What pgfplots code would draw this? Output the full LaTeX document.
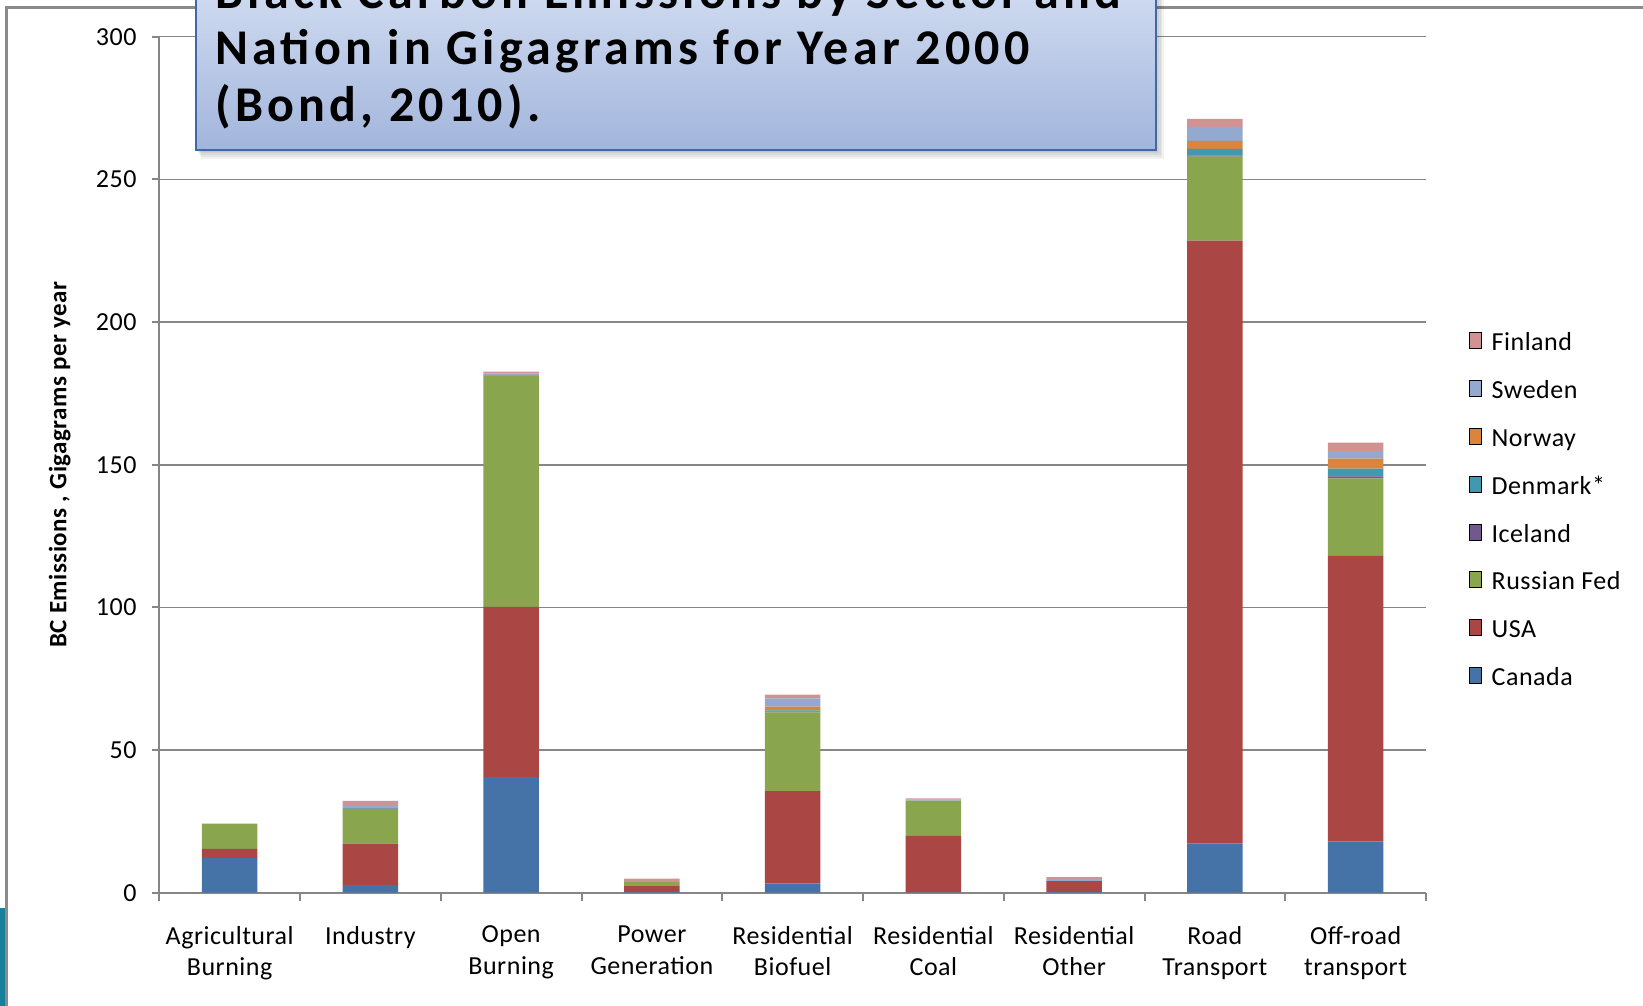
\documentclass[border=0pt]{standalone}
\usepackage{pgfplots}
\pgfplotsset{compat=1.18}
\usepackage{pgfplotstable}
\usepackage{fontspec}
\setmainfont{Carlito}
\newfontfamily\lblfont[LetterSpace=2]{Carlito}
\newfontfamily\legfont[LetterSpace=2]{Carlito}
\newfontfamily\ylabfont[LetterSpace=2]{Carlito}
\newfontfamily\titlefont[LetterSpace=8.5]{Carlito}

\definecolor{cCanada}{HTML}{4572A7}
\definecolor{cUSA}{HTML}{AA4643}
\definecolor{cRussia}{HTML}{89A54E}
\definecolor{cIceland}{HTML}{71588F}
\definecolor{cDenmark}{HTML}{4198AF}
\definecolor{cNorway}{HTML}{DB843D}
\definecolor{cSweden}{HTML}{93A9CF}
\definecolor{cFinland}{HTML}{D19392}
\definecolor{axgray}{HTML}{868686}
\definecolor{framegray}{HTML}{8A8A8A}
\definecolor{slideteal}{HTML}{17809A}
\definecolor{titletop}{HTML}{D8E2F4}
\definecolor{titlebot}{HTML}{A2B5DC}
\definecolor{titleborder}{HTML}{3F69A6}

% BC emissions (Gg/yr) by sector (rows) and nation (columns)
\pgfplotstableread{
x Canada USA Russia Iceland Denmark Norway Sweden Finland
0 12.1  3.3   8.8  0.0 0.0 0.0 0.0 0.0
1  2.7 14.5  12.2  0.1 0.2 0.2 0.8 1.5
2 40.5 59.7  81.0  0.0 0.2 0.1 0.5 0.6
3  0.3  2.0   1.5  0.0 0.0 0.0 0.3 0.8
4  3.3 32.3  27.6  0.3 0.4 1.3 2.9 1.3
5  0.1 19.8  12.4  0.0 0.0 0.0 0.3 0.5
6  0.2  3.9   0.0  0.0 0.0 0.0 0.7 0.7
7 17.3 211.2 29.5  0.3 2.4 2.8 4.9 2.8
8 18.0 100.2 27.0  0.7 2.7 3.5 2.7 2.9
}\bcdata

% solid bar segment with a plain square legend swatch (fill only)
\tikzset{sq/.style={fill=#1, draw=none,
  legend image code/.code={%
    \pgfsetfillcolor{#1}%
    \pgfpathrectangle{\pgfpoint{0pt}{-3.9pt}}{\pgfpoint{7.8pt}{7.8pt}}%
    \pgfusepath{fill}}}}

\begin{document}
\begin{tikzpicture}
\path[use as bounding box] (0,0) rectangle (821.5pt,-503pt);

% slide frame
\fill[slideteal] (0,-454pt) rectangle (2.6pt,-503pt);
\draw[framegray, line width=1.2pt] (3.25pt,-503pt) -- (3.25pt,-3.75pt) -- (821.5pt,-3.75pt);

\begin{axis}[
  at={(79.65pt,-446.35pt)}, anchor=south west,
  scale only axis, width=633.35pt, height=428pt,
  ybar stacked, bar width=27.8pt,
  xmin=-0.5, xmax=8.5, ymin=0, ymax=300,
  enlargelimits=false,
  ytick={0,50,...,300},
  xtick={0,...,8},
  minor xtick={-0.5,0.5,...,8.5},
  xticklabels={{Agricultural\\Burning},{Industry},{Open\\Burning},{Power\\Generation},{Residential\\Biofuel},{Residential\\Coal},{Residential\\Other},{Road\\Transport},{Off-road\\transport}},
  axis x line*=bottom, axis y line*=left,
  axis line style={draw=axgray, line width=1pt, -},
  tick align=outside,
  major tick length=3.7pt, minor tick length=4.2pt,
  tick style={draw=axgray, line width=1pt},
  major x tick style={draw=none},
  ymajorgrids, grid style={draw=axgray, line width=0.8pt},
  /pgf/number format/assume math mode=true,
  yticklabel style={font=\lblfont\fontsize{13}{15}\selectfont, text=black, xshift=-4.2pt},
  xticklabel style={font=\lblfont\fontsize{13}{15.8}\selectfont, align=center, anchor=north, text=black, yshift=-9.4pt},
  ylabel={BC Emissions , Gigagrams  per year},
  ylabel style={font=\ylabfont\fontsize{12.5}{15}\selectfont\bfseries, at={(axis description cs:-0.0786,0.5)}, anchor=center},
  legend style={draw=none, fill=none, at={(axis description cs:1.034,0.655)}, anchor=north west,
    font=\legfont\fontsize{13}{15}\selectfont, row sep=11.7pt, column sep=4.7pt, inner sep=0pt,
    nodes={inner sep=0pt, text height=9pt, text depth=3pt}},
  legend cell align=left,
  reverse legend,
]
\addplot[sq=cCanada] table[x=x, y=Canada] {\bcdata};
\addlegendentry{Canada}
\addplot[sq=cUSA] table[x=x, y=USA] {\bcdata};
\addlegendentry{USA}
\addplot[sq=cRussia] table[x=x, y=Russia] {\bcdata};
\addlegendentry{Russian Fed}
\addplot[sq=cIceland] table[x=x, y=Iceland] {\bcdata};
\addlegendentry{Iceland}
\addplot[sq=cDenmark] table[x=x, y=Denmark] {\bcdata};
\addlegendentry{Denmark*}
\addplot[sq=cNorway] table[x=x, y=Norway] {\bcdata};
\addlegendentry{Norway}
\addplot[sq=cSweden] table[x=x, y=Sweden] {\bcdata};
\addlegendentry{Sweden}
\addplot[sq=cFinland] table[x=x, y=Finland] {\bcdata};
\addlegendentry{Finland}
\end{axis}

% title box with soft shadow
\foreach \k in {1,...,5}{
  \fill[black, opacity=0.05] (98pt+\k*0.5pt,20pt) rectangle (577.85pt+\k*0.8pt,-74.9pt-\k*0.9pt);
}
\shade[top color=titletop, bottom color=titlebot] (98pt,20pt) rectangle (577.85pt,-74.9pt);
\draw[titleborder, line width=1pt] (98pt,20pt) rectangle (577.85pt,-74.9pt);
\begin{scope}[every node/.style={anchor=base west, inner sep=0pt, font=\titlefont\fontsize{25}{30}\selectfont\bfseries}]
\node at (107.4pt,-4.15pt) {Black Carbon Emissions by Sector and};
\node at (107.4pt,-32.5pt) {Nation in Gigagrams for Year 2000};
\node at (107.4pt,-60.85pt) {(Bond, 2010).};
\end{scope}
\end{tikzpicture}
\end{document}
